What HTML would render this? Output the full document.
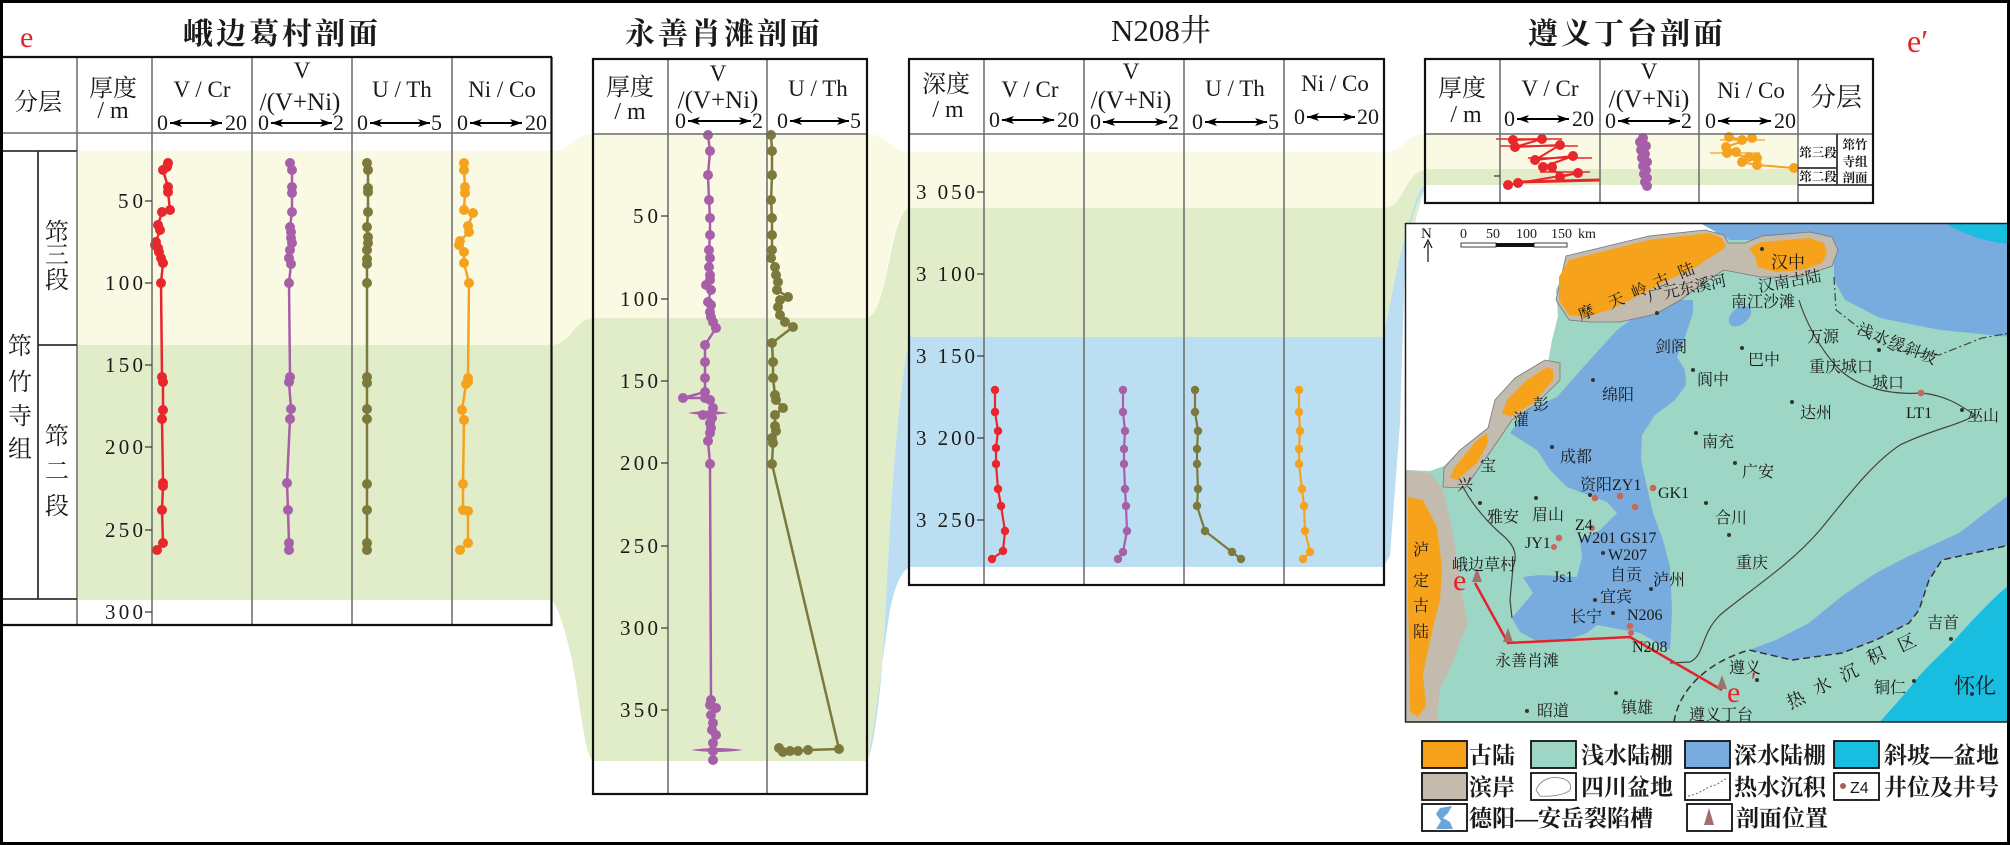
<!DOCTYPE html>
<html><head><meta charset="utf-8">
<style>
html,body{margin:0;padding:0;background:#fff;}
svg{display:block;}
text{font-family:"Liberation Serif","Noto Serif CJK SC",serif;fill:#1a1a1a;}
.t{font-size:30px;font-weight:bold;letter-spacing:3px;}
.h{font-size:24px;}
.l{font-size:22px;}
.n{font-size:21px;}
.m{font-size:16px;fill:#222;}
.lg{font-size:23px;font-weight:bold;}
</style></head><body>
<svg width="2010" height="845" viewBox="0 0 2010 845" xmlns="http://www.w3.org/2000/svg">
<defs>
<marker id="ah" viewBox="0 0 12 8" refX="12" refY="4" markerWidth="12" markerHeight="8" markerUnits="userSpaceOnUse" orient="auto-start-reverse"><path d="M0,0 L12,4 L0,8 L3,4 Z" fill="#000"/></marker>
<marker id="mr" viewBox="0 0 12 12" refX="6" refY="6" markerWidth="12" markerHeight="12" markerUnits="userSpaceOnUse"><circle cx="6" cy="6" r="5" fill="#e8262b"/></marker>
<marker id="mp" viewBox="0 0 12 12" refX="6" refY="6" markerWidth="12" markerHeight="12" markerUnits="userSpaceOnUse"><circle cx="6" cy="6" r="5" fill="#a65fa8"/></marker>
<marker id="mo" viewBox="0 0 12 12" refX="6" refY="6" markerWidth="12" markerHeight="12" markerUnits="userSpaceOnUse"><circle cx="6" cy="6" r="5" fill="#7b7a3c"/></marker>
<marker id="my" viewBox="0 0 12 12" refX="6" refY="6" markerWidth="12" markerHeight="12" markerUnits="userSpaceOnUse"><circle cx="6" cy="6" r="5" fill="#f5a21e"/></marker>
<marker id="mr4" viewBox="0 0 10 10" refX="5" refY="5" markerWidth="10" markerHeight="10" markerUnits="userSpaceOnUse"><circle cx="5" cy="5" r="4.2" fill="#e8262b"/></marker>
<marker id="mp4" viewBox="0 0 10 10" refX="5" refY="5" markerWidth="10" markerHeight="10" markerUnits="userSpaceOnUse"><circle cx="5" cy="5" r="4.2" fill="#a65fa8"/></marker>
<marker id="mo4" viewBox="0 0 10 10" refX="5" refY="5" markerWidth="10" markerHeight="10" markerUnits="userSpaceOnUse"><circle cx="5" cy="5" r="4.2" fill="#7b7a3c"/></marker>
<marker id="my4" viewBox="0 0 10 10" refX="5" refY="5" markerWidth="10" markerHeight="10" markerUnits="userSpaceOnUse"><circle cx="5" cy="5" r="4.2" fill="#f5a21e"/></marker>
<clipPath id="mc"><rect x="1406" y="224" width="602" height="498"/></clipPath>
</defs>
<rect x="0" y="0" width="2010" height="845" fill="#fff"/>

<!-- ===== bands ===== -->
<g>
<rect x="77" y="151" width="475" height="194" fill="#fafae4"/>
<rect x="77" y="345" width="475" height="255" fill="#e1edc9"/>
<path d="M551,151 C572,151 574,134 594,134 L594,318 C574,318 572,345 551,345 Z" fill="#fafae4"/>
<path d="M551,345 C572,345 574,318 594,318 L594,761 C585,761 580,700 572,660 C565,630 558,605 551,600 Z" fill="#e1edc9"/>
<rect x="593" y="134" width="274" height="184" fill="#fafae4"/>
<rect x="593" y="318" width="274" height="443" fill="#e1edc9"/>
<path d="M866,134 C888,134 890,152 910,152 L910,208 C888,208 888,318 866,318 Z" fill="#fafae4"/>
<path d="M866,318 C888,318 890,208 910,208 L910,337 C895,400 888,560 884,640 C880,700 874,745 866,761 Z" fill="#e1edc9"/>
<path d="M910,337 C895,400 888,560 884,640 C880,700 874,745 868,760 C876,720 882,660 890,610 C895,585 902,570 910,567 Z" fill="#bcdef3"/>
<rect x="909" y="152" width="475" height="56" fill="#fafae4"/>
<rect x="909" y="208" width="475" height="129" fill="#e1edc9"/>
<rect x="909" y="337" width="475" height="230" fill="#bcdef3"/>
<path d="M1383,152 C1405,152 1405,134 1426,134 L1426,170 C1405,170 1405,208 1383,208 Z" fill="#fafae4"/>
<path d="M1383,208 C1405,208 1405,170 1426,170 L1426,186 C1410,230 1400,300 1383,337 Z" fill="#e1edc9"/>
<path d="M1383,337 C1392,300 1400,240 1420,190 L1426,186 C1415,205 1408,225 1405,260 L1400,423 L1390,556 L1383,567 Z" fill="#bcdef3"/>
<rect x="1425" y="134" width="373" height="35" fill="#fafae4"/>
<rect x="1425" y="169" width="373" height="16" fill="#e1edc9"/>
</g>

<!-- ===== left panel series ===== -->
<g fill="none" stroke-width="2.5" stroke-linejoin="round">
<polyline stroke="#e8262b" marker-start="url(#mr)" marker-mid="url(#mr)" marker-end="url(#mr)" points="168,163 167,167 163,170 168,187 168,192 170,210 162,212 158,225 160,230 156,242 155,245 158,248 159,252 161,258 163,263 161,283 162,377 163,382 163,410 162,419 163,483 163,486 162,510 163,543 157,550"/>
<polyline stroke="#a65fa8" marker-start="url(#mp)" marker-mid="url(#mp)" marker-end="url(#mp)" points="290,163 292,170 292,187 292,193 292,212 290,227 291,232 291,238 292,243 290,250 289,258 291,264 289,283 290,377 289,382 291,409 290,419 287,483 288,510 289,543 289,550"/>
<polyline stroke="#7b7a3c" marker-start="url(#mo)" marker-mid="url(#mo)" marker-end="url(#mo)" points="367,163 368,170 368,188 368,192 368,212 367,227 368,237 368,243 367,250 367,259 367,264 367,283 367,377 367,383 367,409 367,419 367,484 367,510 367,543 367,550"/>
<polyline stroke="#f5a21e" marker-start="url(#my)" marker-mid="url(#my)" marker-end="url(#my)" points="464,163 464,170 465,187 465,193 464,210 473,213 468,226 469,232 460,241 459,245 464,252 464,263 469,283 468,378 468,382 466,384 462,410 464,420 463,484 463,510 468,511 468,543 460,550"/>
</g>

<!-- ===== middle panel series ===== -->
<g fill="none" stroke-width="2.5" stroke-linejoin="round">
<polyline stroke="#a65fa8" marker-start="url(#mp)" marker-mid="url(#mp)" marker-end="url(#mp)" points="708,135 710,151 708,175 709,200 710,218 710,235 709,250 710,258 709,267 710,275 710,280 706,285 711,290 708,302 711,305 710,312 711,317 713,322 716,328 705,345 705,362 705,378 705,392 683,398 705,398 710,400 713,408 703,415 712,418 710,423 711,428 710,433 708,441 710,464 711,700 710,705 716,708 711,715 713,723 712,730 716,735 713,743 713,751 713,760"/>
<polyline stroke="#7b7a3c" marker-start="url(#mo)" marker-mid="url(#mo)" marker-end="url(#mo)" points="771,135 772,151 772,175 771,200 772,218 772,235 772,250 771,258 775,267 776,275 778,282 777,290 788,297 780,300 778,307 780,315 785,322 793,327 772,343 773,362 773,378 775,395 776,400 783,408 775,415 775,426 776,431 772,438 773,443 772,464 839,749 808,750 798,751 790,751 783,752 779,748"/>
</g>
<path d="M688,413 Q707,409 728,413 Q707,417 688,413 Z" fill="#a65fa8"/>
<path d="M691,750 Q717,746 743,750 Q717,754 691,750 Z" fill="#a65fa8"/>

<!-- ===== N208 series ===== -->
<g fill="none" stroke-width="2.2" stroke-linejoin="round">
<polyline stroke="#e8262b" marker-start="url(#mr4)" marker-mid="url(#mr4)" marker-end="url(#mr4)" points="995,390 995,412 998,431 996,448 996,464 998,489 1001,506 1005,531 1003,551 992,559"/>
<polyline stroke="#a65fa8" marker-start="url(#mp4)" marker-mid="url(#mp4)" marker-end="url(#mp4)" points="1123,390 1123,412 1125,431 1124,449 1124,464 1125,489 1126,506 1127,531 1123,552 1118,559"/>
<polyline stroke="#7b7a3c" marker-start="url(#mo4)" marker-mid="url(#mo4)" marker-end="url(#mo4)" points="1195,390 1195,412 1198,431 1197,449 1197,464 1198,489 1197,506 1205,531 1232,552 1241,559"/>
<polyline stroke="#f5a21e" marker-start="url(#my4)" marker-mid="url(#my4)" marker-end="url(#my4)" points="1299,390 1299,412 1300,431 1299,449 1299,464 1302,489 1304,506 1305,531 1310,552 1303,559"/>
</g>

<!-- ===== right panel series ===== -->
<g stroke="#e8262b" stroke-width="1.5">
<line x1="1496" y1="139" x2="1562" y2="139"/>
<line x1="1500" y1="146" x2="1578" y2="146"/>
<line x1="1528" y1="158" x2="1592" y2="158"/>
<line x1="1540" y1="172" x2="1590" y2="172"/>
<line x1="1518" y1="182" x2="1600" y2="180" stroke-width="3"/>
</g>
<g fill="none" stroke-width="2" stroke-linejoin="round">
<polyline stroke="#e8262b" marker-start="url(#mr)" marker-mid="url(#mr)" marker-end="url(#mr)" points="1513,140 1542,139 1515,147 1560,145 1535,160 1573,156 1543,167 1552,167 1560,177 1578,173 1518,183 1508,185"/>
<polyline stroke="#a65fa8" marker-start="url(#mp)" marker-mid="url(#mp)" marker-end="url(#mp)" points="1643,138 1640,142 1646,146 1641,150 1645,154 1642,158 1647,162 1643,166 1646,170 1644,174 1647,178 1645,182 1647,186"/>
<polyline stroke="#f5a21e" marker-start="url(#my)" marker-mid="url(#my)" marker-end="url(#my)" points="1729,137 1742,140 1752,138 1726,147 1736,152 1727,153 1749,157 1757,158 1742,162 1757,165 1794,168"/>
</g>
<g stroke="#f5a21e" stroke-width="1.2"><line x1="1710" y1="153" x2="1760" y2="153"/><line x1="1720" y1="140" x2="1765" y2="140"/></g>

<!-- ===== table lines ===== -->
<g stroke="#6a6a6a" stroke-width="1.5" fill="none">
<line x1="77" y1="57" x2="77" y2="625"/><line x1="152" y1="57" x2="152" y2="625"/><line x1="252" y1="57" x2="252" y2="625"/><line x1="352" y1="57" x2="352" y2="625"/><line x1="452" y1="57" x2="452" y2="625"/>
<line x1="3" y1="133" x2="552" y2="133"/>
<line x1="668" y1="59" x2="668" y2="794"/><line x1="767" y1="59" x2="767" y2="794"/>
<line x1="593" y1="134" x2="867" y2="134"/>
<line x1="984" y1="59" x2="984" y2="585"/><line x1="1084" y1="59" x2="1084" y2="585"/><line x1="1184" y1="59" x2="1184" y2="585"/><line x1="1284" y1="59" x2="1284" y2="585"/>
<line x1="909" y1="134" x2="1384" y2="134"/>
<line x1="1500" y1="59" x2="1500" y2="203"/><line x1="1600" y1="59" x2="1600" y2="203"/><line x1="1699" y1="59" x2="1699" y2="203"/><line x1="1798" y1="59" x2="1798" y2="203"/>
<line x1="1425" y1="134" x2="1873" y2="134"/>
</g>
<g stroke="#333" stroke-width="1.8" fill="none">
<line x1="3" y1="151" x2="77" y2="151"/><line x1="3" y1="599" x2="77" y2="599"/><line x1="38" y1="151" x2="38" y2="599"/><line x1="38" y1="345" x2="77" y2="345"/>
<line x1="1837" y1="134" x2="1837" y2="185"/><line x1="1798" y1="168" x2="1837" y2="168"/><line x1="1798" y1="185" x2="1873" y2="185"/>
</g>
<g stroke="#111" stroke-width="2.2" fill="none">
<line x1="2" y1="57" x2="552" y2="57"/><line x1="551.5" y1="57" x2="551.5" y2="626"/><line x1="2" y1="625" x2="552" y2="625"/>
<rect x="593" y="59" width="274" height="735"/>
<rect x="909" y="59" width="475" height="526"/>
<rect x="1425" y="59" width="448" height="144"/>
</g>
<!-- ticks -->
<g stroke="#333" stroke-width="1.2">
<line x1="145" y1="201" x2="152" y2="201"/><line x1="145" y1="283" x2="152" y2="283"/><line x1="145" y1="365" x2="152" y2="365"/><line x1="145" y1="447" x2="152" y2="447"/><line x1="145" y1="530" x2="152" y2="530"/><line x1="145" y1="612" x2="152" y2="612"/>
<line x1="661" y1="216" x2="668" y2="216"/><line x1="661" y1="299" x2="668" y2="299"/><line x1="661" y1="381" x2="668" y2="381"/><line x1="661" y1="463" x2="668" y2="463"/><line x1="661" y1="546" x2="668" y2="546"/><line x1="661" y1="628" x2="668" y2="628"/><line x1="661" y1="710" x2="668" y2="710"/>
<line x1="977" y1="192" x2="984" y2="192"/><line x1="977" y1="274" x2="984" y2="274"/><line x1="977" y1="356" x2="984" y2="356"/><line x1="977" y1="438" x2="984" y2="438"/><line x1="977" y1="520" x2="984" y2="520"/>
<line x1="1494" y1="176" x2="1500" y2="176"/>
</g>
<g class="n" text-anchor="end">
<text x="143" y="208" textLength="25">50</text><text x="143" y="290" textLength="38">100</text><text x="143" y="372" textLength="38">150</text><text x="143" y="454" textLength="38">200</text><text x="143" y="537" textLength="38">250</text><text x="143" y="619" textLength="38">300</text>
<text x="658" y="223" textLength="25">50</text><text x="658" y="306" textLength="38">100</text><text x="658" y="388" textLength="38">150</text><text x="658" y="470" textLength="38">200</text><text x="658" y="553" textLength="38">250</text><text x="658" y="635" textLength="38">300</text><text x="658" y="717" textLength="38">350</text>
<text x="975" y="199" textLength="59">3 050</text><text x="975" y="281" textLength="59">3 100</text><text x="975" y="363" textLength="59">3 150</text><text x="975" y="445" textLength="59">3 200</text><text x="975" y="527" textLength="59">3 250</text>
</g>

<!-- ===== titles ===== -->
<text x="20" y="47" font-size="30" style="fill:#e1262b">e</text>
<text class="t" x="282" y="44" text-anchor="middle">峨边葛村剖面</text>
<text class="t" x="724" y="44" text-anchor="middle">永善肖滩剖面</text>
<text x="1161" y="41" font-size="31" text-anchor="middle">N208井</text>
<text class="t" x="1627" y="44" text-anchor="middle">遵义丁台剖面</text>
<text x="1907" y="52" font-size="32" style="fill:#e1262b">e′</text>

<!-- ===== headers ===== -->
<g class="h" text-anchor="middle">
<text x="38" y="110">分层</text>
<text x="113" y="96">厚度</text><text x="113" y="118">/ m</text>
<text x="630" y="95">厚度</text><text x="630" y="119">/ m</text>
<text x="946" y="92">深度</text><text x="948" y="117">/ m</text>
<text x="1462" y="96">厚度</text><text x="1466" y="122">/ m</text>
<text x="1836" y="106" font-size="26">分层</text>
</g>
<g font-size="23" text-anchor="middle">
<text x="202" y="97">V / Cr</text>
<text x="302" y="78">V</text><text x="300" y="110" font-size="25">/(V+Ni)</text>
<text x="402" y="97">U / Th</text>
<text x="502" y="97">Ni / Co</text>
<text x="718" y="81">V</text><text x="718" y="108" font-size="25">/(V+Ni)</text>
<text x="818" y="96">U / Th</text>
<text x="1030" y="97">V / Cr</text>
<text x="1131" y="79">V</text><text x="1131" y="108" font-size="25">/(V+Ni)</text>
<text x="1235" y="96">U / Th</text>
<text x="1335" y="91">Ni / Co</text>
<text x="1550" y="96">V / Cr</text>
<text x="1649" y="79">V</text><text x="1649" y="107" font-size="25">/(V+Ni)</text>
<text x="1751" y="98">Ni / Co</text>
</g>
<!-- scale rows -->
<g class="l">
<text x="157" y="130">0</text><text x="247" y="130" text-anchor="end">20</text>
<text x="258" y="130">0</text><text x="344" y="130" text-anchor="end">2</text>
<text x="357" y="130">0</text><text x="442" y="130" text-anchor="end">5</text>
<text x="457" y="130">0</text><text x="547" y="130" text-anchor="end">20</text>
<text x="675" y="128">0</text><text x="763" y="128" text-anchor="end">2</text>
<text x="777" y="128">0</text><text x="861" y="128" text-anchor="end">5</text>
<text x="989" y="127">0</text><text x="1079" y="127" text-anchor="end">20</text>
<text x="1090" y="129">0</text><text x="1179" y="129" text-anchor="end">2</text>
<text x="1192" y="129">0</text><text x="1279" y="129" text-anchor="end">5</text>
<text x="1294" y="124">0</text><text x="1379" y="124" text-anchor="end">20</text>
<text x="1504" y="126">0</text><text x="1594" y="126" text-anchor="end">20</text>
<text x="1605" y="128">0</text><text x="1692" y="128" text-anchor="end">2</text>
<text x="1705" y="128">0</text><text x="1796" y="128" text-anchor="end">20</text>
</g>
<g stroke="#000" stroke-width="2" marker-start="url(#ah)" marker-end="url(#ah)">
<line x1="170" y1="123" x2="222" y2="123"/>
<line x1="271" y1="123" x2="332" y2="123"/>
<line x1="370" y1="123" x2="430" y2="123"/>
<line x1="470" y1="123" x2="522" y2="123"/>
<line x1="688" y1="121" x2="751" y2="121"/>
<line x1="790" y1="121" x2="849" y2="121"/>
<line x1="1002" y1="120" x2="1054" y2="120"/>
<line x1="1103" y1="122" x2="1167" y2="122"/>
<line x1="1205" y1="122" x2="1267" y2="122"/>
<line x1="1307" y1="117" x2="1355" y2="117"/>
<line x1="1517" y1="119" x2="1569" y2="119"/>
<line x1="1618" y1="121" x2="1680" y2="121"/>
<line x1="1718" y1="121" x2="1771" y2="121"/>
</g>

<!-- stratigraphy vertical labels -->
<g class="h" text-anchor="middle">
<text x="20" y="354">筇</text><text x="20" y="390">竹</text><text x="20" y="424">寺</text><text x="20" y="457">组</text>
<text x="57" y="240">筇</text><text x="57" y="263">三</text><text x="57" y="288">段</text>
<text x="57" y="444">筇</text><text x="57" y="479">二</text><text x="57" y="514">段</text>
</g>
<g font-size="12.5" font-weight="bold" text-anchor="middle">
<text x="1818" y="157">筇三段</text><text x="1818" y="181">筇二段</text>
<text x="1855" y="149">筇竹</text><text x="1855" y="166">寺组</text><text x="1855" y="182">剖面</text>
</g>

<!-- ===== map ===== -->
<g clip-path="url(#mc)">
<rect x="1400" y="220" width="620" height="510" fill="#9ed6c6"/>
<polygon fill="#fff" points="1405,223 1706,223 1722,238 1649,240 1569,260 1556,290 1558,316 1552,340 1548,362 1520,378 1497,403 1488,428 1460,450 1444,466 1430,471 1405,470"/>
<polygon fill="#78acdf" points="1700,223 2010,223 2010,337 1940,330 1880,318 1845,300 1834,280 1834,250 1825,238 1760,240 1730,240"/>
<path d="M1945,223 C1965,235 1990,243 2010,244 L2010,223 Z" fill="#18bde0"/>
<polygon fill="#78acdf" points="1749,650 1776,640 1809,623 1842,596 1876,573 1909,556 1959,533 2010,494 2010,545 1942,560 1929,580 1919,610 1909,623 1876,640 1842,653 1792,660"/>
<path d="M2010,584 C1985,605 1962,632 1950,645 C1935,660 1925,668 1912,685 C1900,700 1890,710 1880,722 L2010,722 Z" fill="#18bde0"/>
<polygon fill="#78acdf" points="1657,300 1693,300 1693,313 1683,343 1677,357 1685,370 1686,385 1675,400 1655,415 1642,435 1641,460 1647,487 1653,513 1663,540 1670,567 1672,610 1670,650 1640,633 1613,628 1597,625 1587,633 1567,640 1540,643 1520,632 1512,618 1533,593 1523,577 1540,575 1577,577 1582,557 1580,540 1600,530 1617,513 1607,502 1567,487 1550,470 1537,450 1510,433 1527,410 1557,397 1587,363 1617,330 1640,313"/>
<ellipse cx="1740" cy="316" rx="13" ry="8" transform="rotate(-40 1740 316)" fill="#78acdf"/>
<polygon fill="#c4bbaf" stroke="#777" stroke-width="0.8" points="1556,300 1569,320 1590,322 1620,322 1656,314 1682,299 1702,284 1724,270 1760,277 1800,277 1832,266 1838,250 1832,237 1810,232 1762,236 1745,243 1728,243 1724,235 1705,230 1649,236 1566,256"/>
<polygon fill="#f7a21b" points="1559,277 1569,260 1649,240 1709,233 1722,238 1726,247 1696,267 1662,283 1636,297 1609,310 1586,317 1569,315 1559,300"/>
<polygon fill="#f7a21b" points="1749,248 1762,242 1809,238 1824,243 1827,253 1822,263 1802,270 1776,272 1757,267 1756,258"/>
<polygon fill="#c4bbaf" stroke="#777" stroke-width="0.8" points="1560,363 1545,360 1515,378 1495,400 1488,428 1460,450 1444,468 1443,487 1465,488 1495,445 1512,420 1535,405 1560,380"/>
<polygon fill="#f7a21b" points="1553,370 1547,367 1527,380 1507,400 1502,413 1510,417 1533,403 1553,380"/>
<polygon fill="#f7a21b" points="1487,433 1477,440 1455,467 1450,477 1457,480 1477,463 1488,443"/>
<polygon fill="#c4bbaf" points="1406,470 1430,473 1443,490 1453,533 1463,600 1468,623 1460,642 1452,665 1440,688 1437,722 1406,722"/>
<polygon fill="#f7a21b" points="1408,497 1423,500 1437,527 1442,567 1440,600 1430,640 1423,675 1426,706 1418,717 1410,712 1408,600"/>
<g fill="none" stroke="#444" stroke-width="1.2">
<path d="M1799,300 C1805,320 1820,350 1840,370 C1860,388 1890,395 1921,393 C1945,395 1960,405 1975,415 C1960,425 1930,430 1900,445 C1870,465 1845,500 1820,530 C1790,565 1750,590 1720,615 C1700,635 1705,655 1690,662 L1670,663"/>
<path d="M1463,487 C1470,500 1480,515 1500,533 C1515,545 1518,555 1513,567 L1510,600 L1512,618"/>
</g>
<g fill="none" stroke="#333" stroke-width="1.5" stroke-dasharray="7,4">
<path d="M1674,722 C1678,695 1700,665 1749,650 L1792,660 L1842,653 L1876,640 L1909,623 L1919,610 L1929,580 L1942,560 L2010,545"/>
</g>
<path d="M1834,277 L1836,310 L1862,330 L1892,350 L1939,355 L1982,338 L2010,333" fill="none" stroke="#444" stroke-width="1.2" stroke-dasharray="8,3,2,3"/>
<!-- section line -->
<polyline points="1475,583 1508,643 1630,637 1722,690" fill="none" stroke="#e3242b" stroke-width="2.5"/>
<g fill="#a0706a"><path d="M1477,568 L1472,582 L1482,582 Z"/><path d="M1508,628 L1503,642 L1513,642 Z"/><path d="M1722,675 L1717,689 L1727,689 Z"/></g>
<text x="1453" y="590" font-size="30" style="fill:#e1262b">e</text>
<text x="1727" y="702" font-size="30" style="fill:#e1262b">e</text>
<text x="1751" y="690" font-size="26" style="fill:#e1262b">′</text>
<!-- dots -->
<g fill="#333">
<circle cx="1657" cy="313" r="2"/><circle cx="1742" cy="348" r="2"/><circle cx="1693" cy="370" r="2"/><circle cx="1593" cy="380" r="2"/><circle cx="1552" cy="447" r="2"/><circle cx="1792" cy="402" r="2"/><circle cx="1696" cy="433" r="2"/><circle cx="1735" cy="463" r="2"/><circle cx="1590" cy="495" r="2"/><circle cx="1706" cy="503" r="2"/><circle cx="1480" cy="503" r="2"/><circle cx="1536" cy="498" r="2"/><circle cx="1603" cy="553" r="2"/><circle cx="1729" cy="535" r="2"/><circle cx="1651" cy="589" r="2"/><circle cx="1595" cy="600" r="2"/><circle cx="1613" cy="613" r="2"/><circle cx="1527" cy="711" r="2"/><circle cx="1616" cy="693" r="2"/><circle cx="1757" cy="680" r="2"/><circle cx="1951" cy="639" r="2"/><circle cx="1914" cy="681" r="2"/><circle cx="1972" cy="694" r="2"/><circle cx="1762" cy="249" r="2"/><circle cx="1879" cy="350" r="2"/><circle cx="1962" cy="410" r="2"/>
</g>
<g fill="#c8685a">
<circle cx="1595" cy="498" r="3.3"/><circle cx="1620" cy="496" r="3.3"/><circle cx="1635" cy="507" r="3.3"/><circle cx="1653" cy="488" r="3.3"/><circle cx="1592" cy="528" r="3"/><circle cx="1559" cy="538" r="3.3"/><circle cx="1554" cy="547" r="3"/><circle cx="1630" cy="626" r="3.3"/><circle cx="1631" cy="633" r="3"/><circle cx="1921" cy="393" r="3.3"/>
</g>
<!-- labels -->
<g class="m">
<text x="1655" y="352">剑阁</text><text x="1748" y="365">巴中</text><text x="1697" y="385">阆中</text><text x="1602" y="400">绵阳</text>
<text x="1533" y="410">彭</text><text x="1513" y="425">灌</text><text x="1480" y="471">宝</text><text x="1457" y="490">兴</text>
<text x="1560" y="462">成都</text><text x="1800" y="418">达州</text><text x="1702" y="447">南充</text><text x="1742" y="477">广安</text>
<text x="1580" y="490">资阳ZY1</text><text x="1658" y="498">GK1</text><text x="1715" y="523">合川</text><text x="1487" y="522">雅安</text><text x="1532" y="520">眉山</text>
<text x="1575" y="530">Z4</text><text x="1577" y="543">W201 GS17</text><text x="1525" y="548">JY1</text><text x="1608" y="560">W207</text>
<text x="1736" y="568">重庆</text><text x="1452" y="570">峨边草村</text><text x="1553" y="582">Js1</text><text x="1610" y="580">自贡</text><text x="1653" y="585">泸州</text>
<text x="1600" y="602">宜宾</text><text x="1570" y="622">长宁</text><text x="1627" y="620">N206</text><text x="1632" y="652">N208</text>
<text x="1495" y="666">永善肖滩</text><text x="1729" y="673">遵义</text><text x="1537" y="716">昭道</text><text x="1621" y="713">镇雄</text><text x="1689" y="720">遵义丁台</text>
<text x="1927" y="628">吉首</text><text x="1874" y="693">铜仁</text><text x="1954" y="693" font-size="21">怀化</text>
<text x="1771" y="268" font-size="17">汉中</text><text x="1731" y="307">南江沙滩</text><text x="1807" y="342">万源</text>
<text x="1809" y="372">重庆城口</text><text x="1872" y="388">城口</text><text x="1906" y="418">LT1</text><text x="1967" y="421">巫山</text>
<text x="1413" y="555">泸</text><text x="1413" y="586">定</text><text x="1413" y="611">古</text><text x="1413" y="637">陆</text>
<text x="1649" y="302" transform="rotate(-12 1649 302)">广元东溪河</text>
<text x="1759" y="292" transform="rotate(-10 1759 292)">汉南古陆</text>
<text x="1856" y="333" transform="rotate(22 1856 333)" letter-spacing="1">浅水缓斜坡</text>
</g>
<g class="m" font-size="17" text-anchor="middle">
<text x="1586" y="318" transform="rotate(-22 1586 312)">摩</text><text x="1616" y="306" transform="rotate(-22 1616 300)">天</text><text x="1639" y="296" transform="rotate(-22 1639 290)">岭</text><text x="1661" y="286" transform="rotate(-22 1661 280)">古</text><text x="1686" y="276" transform="rotate(-22 1686 270)">陆</text>
<text x="1796" y="706" font-size="18" transform="rotate(-25 1796 700)">热</text><text x="1822" y="692" font-size="18" transform="rotate(-25 1822 686)">水</text><text x="1849" y="679" font-size="18" transform="rotate(-25 1849 673)">沉</text><text x="1876" y="662" font-size="18" transform="rotate(-25 1876 656)">积</text><text x="1907" y="649" font-size="18" transform="rotate(-25 1907 643)">区</text>
</g>
<!-- north + scale -->
<text x="1421" y="238" font-size="15">N</text>
<line x1="1428" y1="262" x2="1428" y2="243" stroke="#111" stroke-width="1.2"/>
<path d="M1424,248 L1428,240 L1432,248" fill="none" stroke="#111" stroke-width="1.2"/>
<g font-size="14"><text x="1460" y="238">0</text><text x="1486" y="238">50</text><text x="1516" y="238">100</text><text x="1551" y="238">150</text><text x="1578" y="238">km</text></g>
<rect x="1461" y="243" width="35" height="4" fill="#fff" stroke="#111" stroke-width="0.8"/>
<rect x="1496" y="243" width="38" height="4" fill="#111"/>
<rect x="1534" y="243" width="33" height="4" fill="#fff" stroke="#111" stroke-width="0.8"/>
</g>
<g stroke="#222" stroke-width="1.5">
<line x1="1405.5" y1="223" x2="1405.5" y2="722"/><line x1="1405" y1="223.5" x2="2008" y2="223.5"/><line x1="1405" y1="722" x2="2008" y2="722"/>
</g>

<!-- ===== legend ===== -->
<g stroke="#111" stroke-width="1.8">
<rect x="1422" y="741" width="45" height="27" fill="#f7a21b"/>
<rect x="1531" y="741" width="45" height="27" fill="#9ed6c6"/>
<rect x="1685" y="741" width="45" height="27" fill="#78acdf"/>
<rect x="1834" y="741" width="45" height="27" fill="#18bde0"/>
<rect x="1422" y="773" width="45" height="27" fill="#c4bbaf"/>
<rect x="1531" y="773" width="45" height="27" fill="#fff"/>
<rect x="1685" y="773" width="45" height="27" fill="#fff"/>
<rect x="1834" y="773" width="45" height="27" fill="#fff"/>
<rect x="1422" y="804" width="45" height="27" fill="#fff"/>
<rect x="1687" y="804" width="45" height="27" fill="#fff"/>
</g>
<path d="M1536,790 C1540,780 1550,776 1560,778 C1568,779 1572,784 1570,790 C1565,795 1550,797 1540,796 Z" fill="none" stroke="#777" stroke-width="0.8"/>
<path d="M1688,796 C1700,794 1705,788 1712,786 C1720,784 1722,780 1728,778" fill="none" stroke="#666" stroke-width="1" stroke-dasharray="2,2"/>
<circle cx="1843" cy="786" r="3" fill="#b06050"/>
<text x="1850" y="793" font-size="16" style="font-family:'Liberation Sans',sans-serif">Z4</text>
<path d="M1440,808 L1452,806 L1448,813 L1443,818 L1450,822 L1453,829 L1436,829 L1441,821 L1436,814 Z" fill="#6aa6dc"/>
<path d="M1709,808 L1704,825 L1714,825 Z" fill="#a0706a"/>
<g class="lg">
<text x="1469" y="763">古陆</text><text x="1581" y="763">浅水陆棚</text><text x="1734" y="763">深水陆棚</text><text x="1884" y="763">斜坡—盆地</text>
<text x="1469" y="795">滨岸</text><text x="1581" y="795">四川盆地</text><text x="1734" y="795">热水沉积</text><text x="1884" y="795">井位及井号</text>
<text x="1469" y="826">德阳—安岳裂陷槽</text><text x="1736" y="826">剖面位置</text>
</g>

<!-- frame -->
<rect x="1.5" y="1.5" width="2007" height="842" fill="none" stroke="#000" stroke-width="3"/>
</svg>
</body></html>
